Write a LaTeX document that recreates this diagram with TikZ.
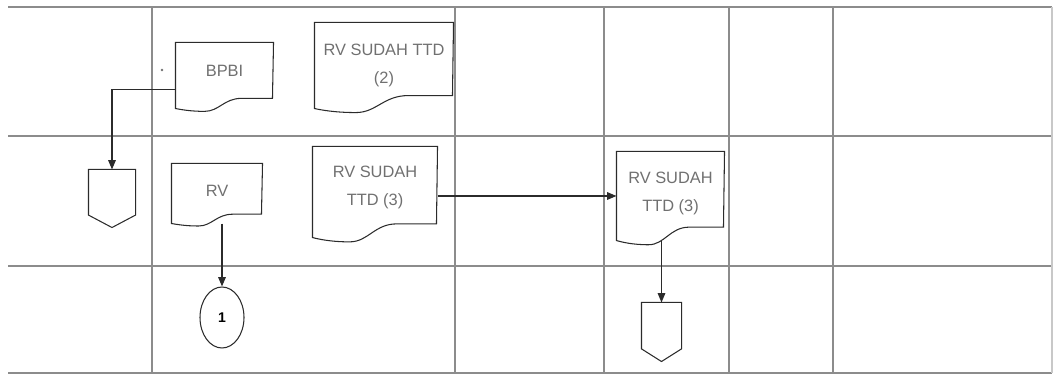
\documentclass[tikz,border=0pt]{standalone}
\usepackage{fontspec}
\setmainfont{Liberation Sans}
\usepackage{tikz}
\usetikzlibrary{arrows.meta,positioning,shapes.geometric,calc}
\definecolor{gridln}{HTML}{8C8C8C}
\definecolor{gridlt}{HTML}{C8C8C8}
\definecolor{inkgray}{HTML}{707070}
\definecolor{bk90}{HTML}{2B2B2B}
\tikzset{
  docbox/.style 2 args={
    rectangle, minimum width=#1*0.03cm, minimum height=#2*0.03cm,
    inner sep=0pt, font=\fontsize{14}{24}\selectfont, text=inkgray,
    align=center,
    append after command={
      (\tikzlastnode.north west) -- (\tikzlastnode.north east)
      -- ($(\tikzlastnode.north west)+(#1,0.86*#2)$)
      -- ($(\tikzlastnode.north west)+(0.68*#1,0.86*#2)$)
      .. controls ($(\tikzlastnode.north west)+(0.5*#1,0.86*#2)$)
         and ($(\tikzlastnode.north west)+(0.45*#1,1.06*#2)$)
      .. ($(\tikzlastnode.north west)+(0.3*#1,1.06*#2)$)
      .. controls ($(\tikzlastnode.north west)+(0.15*#1,1.06*#2)$)
         and ($(\tikzlastnode.north west)+(0.05*#1,1.03*#2)$)
      .. (\tikzlastnode.south west) -- cycle
    }
  },
  textup/.style={text depth=#1*0.06cm},
  offpage/.style 2 args={
    rectangle, minimum width=#1*0.03cm, minimum height=#2*0.03cm,
    inner sep=0pt,
    append after command={
      (\tikzlastnode.north west) -- (\tikzlastnode.north east)
      -- ($(\tikzlastnode.north east)+(0,0.8*#2)$)
      -- (\tikzlastnode.south)
      -- ($(\tikzlastnode.north west)+(0,0.8*#2)$) -- cycle
    }
  },
  connbox/.style={
    ellipse, draw=bk90, line width=0.9pt, inner sep=0pt,
    minimum width=44*0.03cm, minimum height=61*0.03cm,
    font=\fontsize{12}{14}\selectfont\bfseries
  },
  shapeline/.style={draw=bk90, line width=0.9pt},
  gridline/.style={draw=#1, line width=1pt},
  gridline/.default=gridln,
  flowarrow/.style={-{Triangle[length=8pt,width=6.5pt]}, draw=bk90, line width=0.9pt},
}

\begin{document}
\begin{tikzpicture}[x=0.03cm, y=-0.03cm]
  \useasboundingbox (0,0) rectangle (1053,374);

  % lanes
  \foreach \y in {7,136,266,373}
    \draw[gridline] (8,\y) -- (1052,\y);
  \foreach \x in {152,455,604,729,833}
    \draw[gridline] (\x,7) -- (\x,373);
  \draw[gridline=gridlt] (1052,7) -- (1052,373);

  % documents
  \draw[shapeline] node[docbox={97}{65}, textup=5] (bpbi) at (224.5,75.5) {BPBI};
  \draw[shapeline] node[docbox={138}{85}] (ttd2) at (384,65.5) {RV SUDAH TTD\\(2)};
  \draw[shapeline] node[docbox={90}{59}, textup=3] (rv) at (217,193.5) {RV};
  \draw[shapeline] node[docbox={124}{90}, textup=6] (ttd3a) at (375,192) {RV SUDAH\\TTD (3)};
  \draw[shapeline] node[docbox={107}{88}, textup=4] (ttd3b) at (670.5,196) {RV SUDAH\\TTD (3)};

  % connectors
  \draw[shapeline] node[offpage={46}{57}] (offL) at (112,198.5) {};
  \draw[shapeline] node[offpage={39}{58}] (offR) at (661.5,332) {};
  \node[connbox] (c1) at (222,317.5) {1};
  \node[circle, fill=inkgray, inner sep=0pt, minimum size=2.2pt] (dot) at (162,70) {};

  \draw[flowarrow] (bpbi.196) -| (offL.north);
  \draw[flowarrow] (c1 |- rv.south) -- (c1.north);
  \draw[flowarrow] (ttd3a.east |- ttd3b.west) -- (ttd3b.west);
  \draw[flowarrow] (offR |- ttd3b.south) -- (offR.north);
\end{tikzpicture}
\end{document}
